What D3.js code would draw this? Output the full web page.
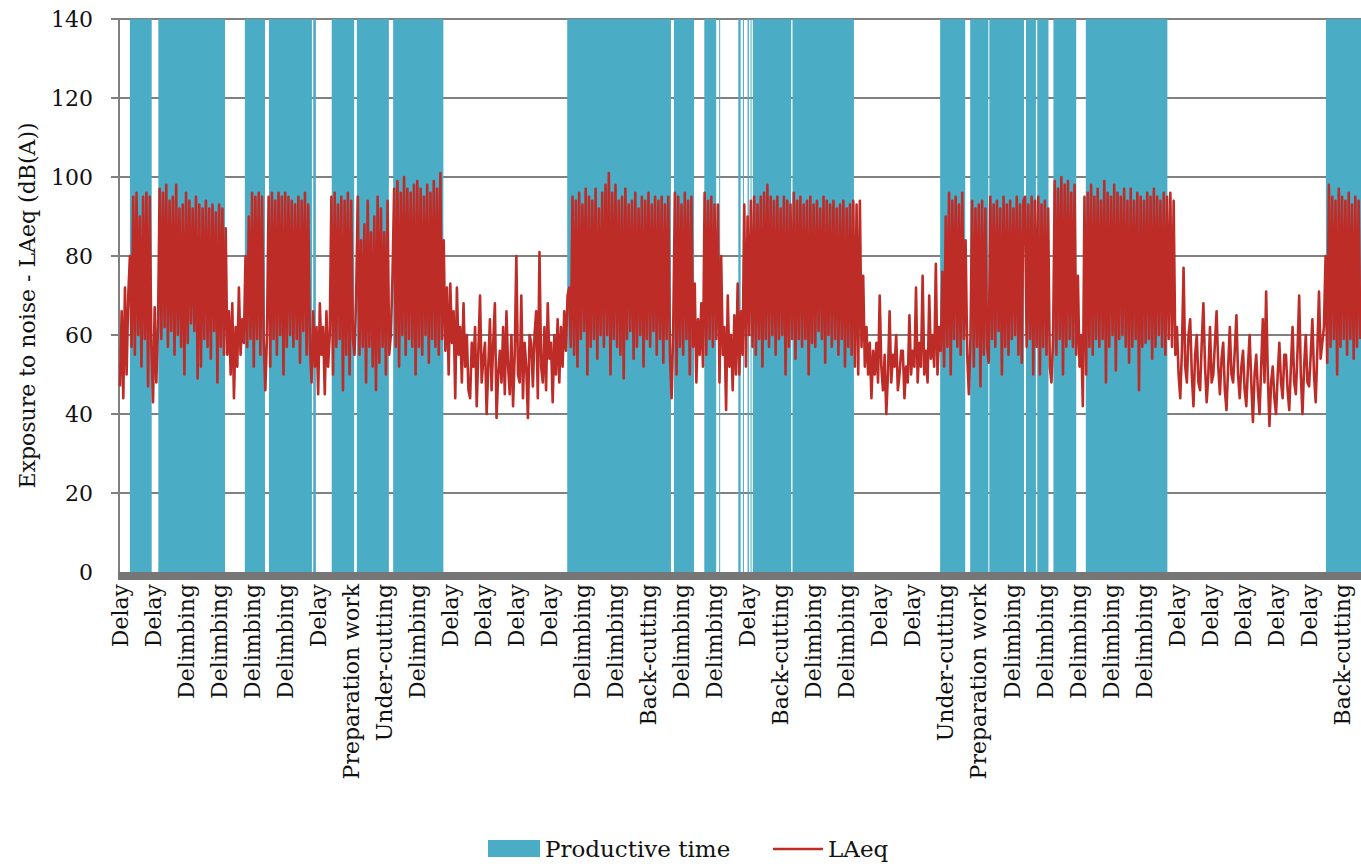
<!DOCTYPE html>
<html>
<head>
<meta charset="utf-8">
<script src="https://cdn.jsdelivr.net/npm/d3@7"></script>
<style>
  html, body { margin: 0; padding: 0; background: #fff; }
  svg { display: block; font-family: "DejaVu Serif", serif; }
</style>
</head>
<body>
<div id="chart"></div>
<script>
// category labels, one every 100 samples
const categories = [
  "Delay", "Delay", "Delimbing", "Delimbing", "Delimbing", "Delimbing", "Delay",
  "Preparation work", "Under-cutting", "Delimbing", "Delay", "Delay", "Delay", "Delay",
  "Delimbing", "Delimbing", "Back-cutting", "Delimbing", "Delimbing", "Delay",
  "Back-cutting", "Delimbing", "Delimbing", "Delay", "Delay", "Under-cutting",
  "Preparation work", "Delimbing", "Delimbing", "Delimbing", "Delimbing", "Delimbing",
  "Delay", "Delay", "Delay", "Delay", "Delay", "Back-cutting"
];
const labelStep = 100;

// productive time spans [start, end] in samples
const productive = [
  [30, 96], [116, 318], [378, 439], [451, 581], [585, 593], [641, 709], [717, 814],
  [827, 979], [1354, 1668], [1677, 1738], [1769, 1805], [1814, 1817], [1872, 1879],
  [1886, 1889], [1900, 1904], [1909, 1912], [1916, 2032], [2036, 2222], [2483, 2559],
  [2574, 2629], [2632, 2737], [2743, 2773], [2777, 2811], [2826, 2895], [2924, 3171],
  [3651, 3758]
];

// LAeq, one reading every 5 samples
const sampleStep = 5;
const laeq = [
  47, 66, 44, 72, 50, 70,
  80, 57, 95, 55, 96, 60, 90, 52, 95, 59, 96, 47, 95, 57,
  43, 67, 48, 62,
  97, 59, 96, 62, 98, 57, 94, 61, 95, 55, 98, 60, 92, 57, 93, 50, 96, 58, 94, 63,
  92, 61, 95, 49, 93, 52, 92, 59, 94, 57, 92, 54, 93, 61, 91, 48, 93, 57, 92, 55,
  87, 55, 66, 50, 68, 44, 62, 52, 72, 55, 64, 58,
  80, 57, 90, 59, 96, 52, 95, 59, 96, 55, 95, 59,
  46, 60,
  95, 52, 96, 59, 94, 55, 96, 60, 95, 50, 96, 57, 95, 60, 94, 57, 93, 59, 95, 53,
  94, 61, 96, 55, 93, 57,
  48, 66, 52, 62, 45, 68, 55, 62, 45, 66, 52, 60,
  95, 50, 96, 57, 93, 59, 95, 46, 94, 55, 96, 50, 94, 59,
  55, 70,
  95, 55, 84, 57, 88, 48, 94, 57, 86, 52, 90, 46, 95, 53, 92, 57, 86, 50, 94, 55,
  60, 75,
  97, 57, 99, 52, 96, 60, 100, 55, 97, 59, 96, 57, 98, 50, 99, 57, 97, 55, 95, 60,
  98, 53, 96, 59, 99, 57, 97, 55, 101, 59,
  84, 56, 72, 50, 73, 58, 66, 44, 72, 55, 62, 48, 68, 52, 60, 46,
  44, 58, 52, 62, 42, 56, 70, 48, 54, 58, 40, 52, 64, 46, 58, 68, 39, 50, 56, 48,
  62, 45, 66, 52, 45, 60, 42, 55, 80, 50, 48, 70, 44, 58, 52, 39, 60, 58, 47, 60,
  66, 44, 81, 52, 48, 62, 46, 68, 54, 58, 43, 60, 50, 64, 48, 62, 52, 66, 56, 70,
  72, 57, 95, 55, 94, 52, 96, 59, 93, 61, 97, 50, 95, 57, 94, 59, 97, 54, 92, 60,
  96, 57, 98, 60, 101, 50, 96, 59, 98, 57, 94, 55, 95, 49, 97, 59, 93, 61, 94, 54,
  96, 57, 92, 60, 95, 52, 94, 59, 96, 57, 93, 61, 95, 55, 94, 59, 95, 53, 93, 59,
  95, 55,
  44, 62,
  96, 50, 95, 57, 93, 55, 96, 59, 94, 50, 95, 57,
  73, 48, 64, 55, 68, 52,
  96, 55, 94, 59, 95, 57, 93, 59,
  93, 48, 80, 55, 62, 41, 70, 52, 60, 46, 65, 50,
  73, 50, 66, 55, 93, 52, 90, 60,
  94, 57, 95, 55, 93, 59, 95, 52, 96, 59, 98, 57, 95, 60, 94, 55, 95, 59, 92, 60,
  95, 50, 94, 57, 93, 59, 96, 54, 94, 59, 95, 57, 93, 59, 94, 50, 95, 58, 93, 57,
  94, 61, 92, 59, 95, 53, 94, 60, 93, 57, 94, 59, 92, 55, 93, 59, 94, 52, 92, 57,
  93, 55,
  94, 52, 93, 50, 94, 57,
  75, 52, 62, 50, 58, 44, 56, 50, 58, 48, 70, 52, 46, 55, 40, 50, 66, 48, 55, 52,
  60, 46, 50, 56, 56, 44, 52, 48, 65, 50, 56, 52, 72, 48, 58, 52, 75, 50, 56, 48,
  70, 54, 60, 52, 78, 50, 62, 56,
  76, 52, 90, 57, 96, 50, 94, 59, 95, 57, 93, 55, 96, 59,
  84, 55, 45, 60,
  94, 52, 92, 57, 93, 47, 94, 55, 92, 57,
  53, 95, 59, 93, 57, 94, 61, 92, 50, 95, 57, 93, 55, 94, 59, 92, 60, 95, 55, 93,
  53, 94,
  95, 57, 93, 59, 95, 50, 94, 57,
  95, 50, 93, 57, 94, 55, 92, 52,
  48, 59, 99, 55, 97, 59, 100, 50, 98, 57, 99, 59, 96, 57, 98, 55,
  75, 52, 60, 42,
  95, 50, 96, 57, 98, 55, 95, 59, 97, 57, 94, 59, 99, 48, 96, 57, 95, 60, 98, 51,
  96, 59, 95, 60, 97, 57, 94, 53, 97, 57, 94, 59, 96, 46, 95, 57, 94, 58, 96, 59,
  95, 54, 97, 57, 95, 60, 94, 57, 96, 55, 95, 59, 96, 57, 94, 55,
  62, 50, 44, 56, 77, 52, 48, 60, 64, 50, 42, 55, 60, 48, 46, 58, 68, 52, 43, 50,
  62, 48, 50, 58, 66, 52, 45, 54, 58, 46, 41, 52, 62, 50, 48, 56, 65, 50, 44, 52,
  56, 46, 42, 52, 60, 48, 38, 50, 55, 46, 40, 52, 64, 48, 71, 50, 37, 48, 52, 44,
  40, 50, 58, 48, 44, 55, 55, 46, 41, 52, 62, 48, 45, 56, 70, 50, 40, 52, 60, 48,
  47, 55, 64, 50, 43, 56, 71, 54, 58, 62,
  80, 53, 98, 57, 95, 59, 94, 50, 97, 57, 95, 59, 94, 55, 96, 59, 93, 54, 95, 57,
  94, 59
];

const yTicks = [0, 20, 40, 60, 80, 100, 120, 140];

const width = 1361, height = 864;
const blue = "#4BACC6", red = "#BE2C28", grid = "#808080";

const svg = d3.select("#chart").append("svg")
    .attr("width", width)
    .attr("height", height);

// first label sits at x=120, labels 33.03px apart
const x = d3.scaleLinear()
    .domain([0, labelStep * (categories.length - 1)])
    .range([120, 120 + 33.03 * (categories.length - 1)]);
const y = d3.scaleLinear().domain([0, 140]).range([572, 19]);

const plotLeft = 119, plotRight = width;

// gridlines + tick marks
svg.append("g")
    .selectAll("line")
    .data(yTicks.filter(d => d > 0))
    .join("line")
    .attr("x1", plotLeft - 8)
    .attr("x2", plotRight)
    .attr("y1", d => y(d))
    .attr("y2", d => y(d))
    .attr("stroke", grid)
    .attr("stroke-width", 2);

// productive time columns
svg.append("g")
    .selectAll("rect")
    .data(productive)
    .join("rect")
    .attr("x", d => x(d[0]))
    .attr("width", d => Math.min(x(d[1]), plotRight) - x(d[0]))
    .attr("y", y(140))
    .attr("height", y(0) - y(140))
    .attr("fill", blue);

// y axis line
svg.append("line")
    .attr("x1", plotLeft).attr("x2", plotLeft)
    .attr("y1", y(140)).attr("y2", y(0))
    .attr("stroke", grid)
    .attr("stroke-width", 2);

// LAeq line
const line = d3.line()
    .x((d, i) => x(i * sampleStep))
    .y(d => y(d));

svg.append("path")
    .datum(laeq)
    .attr("d", line)
    .attr("fill", "none")
    .attr("stroke", red)
    .attr("stroke-width", 2.6)
    .attr("stroke-linejoin", "round");

// dense category ticks form a solid band
svg.append("rect")
    .attr("x", plotLeft - 1)
    .attr("y", y(0))
    .attr("width", plotRight - plotLeft + 1)
    .attr("height", 8)
    .attr("fill", "#767676");

// y tick labels
svg.append("g")
    .selectAll("text")
    .data(yTicks)
    .join("text")
    .attr("x", 93)
    .attr("y", d => y(d))
    .attr("dy", "0.35em")
    .attr("text-anchor", "end")
    .attr("font-size", 22)
    .attr("fill", "#111")
    .text(d => d);

// y title
svg.append("text")
    .attr("transform", `translate(35,${(y(0) + y(140)) / 2 + 10}) rotate(-90)`)
    .attr("text-anchor", "middle")
    .attr("font-size", 22)
    .attr("fill", "#111")
    .text("Exposure to noise - LAeq (dB(A))");

// x category labels
svg.append("g")
    .selectAll("text")
    .data(categories)
    .join("text")
    .attr("transform", (d, i) => `translate(${x(i * labelStep)},584) rotate(-90)`)
    .attr("dy", "0.35em")
    .attr("text-anchor", "end")
    .attr("font-size", 22)
    .attr("fill", "#111")
    .text(d => d);

// legend
const legend = svg.append("g").attr("font-size", 23).attr("fill", "#111");
legend.append("rect")
    .attr("x", 488).attr("y", 840)
    .attr("width", 52).attr("height", 17)
    .attr("fill", blue);
legend.append("text").attr("x", 545).attr("y", 857).text("Productive time");
legend.append("line")
    .attr("x1", 773).attr("x2", 823)
    .attr("y1", 849).attr("y2", 849)
    .attr("stroke", red).attr("stroke-width", 2.5);
legend.append("text").attr("x", 828).attr("y", 857).text("LAeq");
</script>
</body>
</html>
